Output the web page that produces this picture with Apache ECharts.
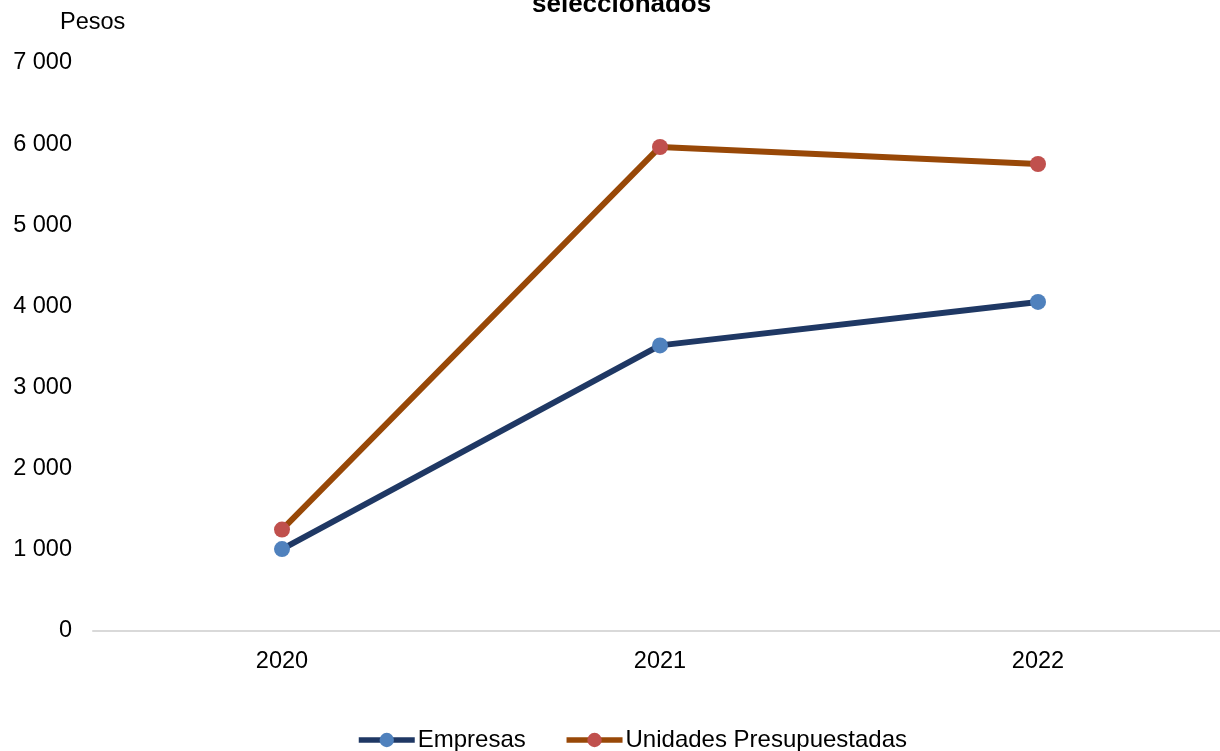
<!DOCTYPE html>
<html>
<head>
<meta charset="utf-8">
<script src="https://cdn.jsdelivr.net/npm/echarts@6/dist/echarts.min.js"></script>
<style>
html,body{margin:0;padding:0;background:#fff;overflow:hidden;width:1220px;height:751px;}
#chart{width:1227px;height:751px;}
</style>
</head>
<body>
<div id="chart"></div>
<script>
var categories = ['2020', '2021', '2022'];
var empresas = [1010, 3520, 4055];
var unidades = [1250, 5965, 5755];
var seriesNames = ['Empresas', 'Unidades Presupuestadas'];
var titleText = 'seleccionados';
var yAxisTitle = 'Pesos';

var FONT = 'Liberation Sans, Arial, sans-serif';
var FS = 23.5;
var chart = echarts.init(document.getElementById('chart'), null, {renderer: 'canvas'});
chart.setOption({
  animation: false,
  backgroundColor: '#ffffff',
  title: {
    text: titleText,
    left: 527,
    top: -13,
    textStyle: {fontFamily: FONT, fontSize: 26, fontWeight: 'bold', color: '#000'}
  },
  graphic: [{
    type: 'text',
    left: 60,
    top: 11,
    style: {text: yAxisTitle, font: FS + 'px ' + FONT, fill: '#000'}
  }],
  grid: {left: 93, right: 0, top: 63, bottom: 120, containLabel: false},
  legend: {
    bottom: -6,
    left: 351,
    itemWidth: 56,
    itemHeight: 18,
    itemGap: 38,
    textStyle: {fontFamily: FONT, fontSize: 24, color: '#000', padding: [0, 0, 0, -2]},
    lineStyle: {width: 5.5},
    data: seriesNames
  },
  xAxis: {
    type: 'category',
    data: categories,
    boundaryGap: true,
    axisLine: {show: true, lineStyle: {color: '#d9d9d9', width: 2}},
    axisTick: {show: false},
    axisLabel: {fontFamily: FONT, fontSize: FS, color: '#000', margin: 19}
  },
  yAxis: {
    type: 'value',
    min: 0,
    max: 7000,
    interval: 1000,
    splitLine: {show: false},
    axisLine: {show: false},
    axisTick: {show: false},
    axisLabel: {
      fontFamily: FONT, fontSize: FS, color: '#000', margin: 21,
      formatter: function (v) {
        return String(v).replace(/\B(?=(\d{3})+(?!\d))/g, ' ');
      }
    }
  },
  series: [
    {
      name: seriesNames[0],
      type: 'line',
      data: empresas,
      symbol: 'circle',
      symbolSize: 16,
      lineStyle: {color: '#1f3864', width: 6},
      itemStyle: {color: '#4f81bd'}
    },
    {
      name: seriesNames[1],
      type: 'line',
      data: unidades,
      symbol: 'circle',
      symbolSize: 16,
      lineStyle: {color: '#984807', width: 6},
      itemStyle: {color: '#c0504d'}
    }
  ]
});
</script>
</body>
</html>
